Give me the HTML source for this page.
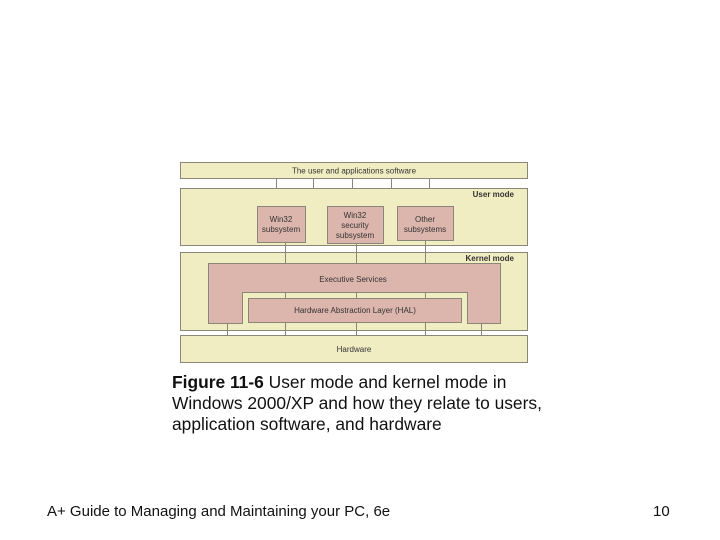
<!DOCTYPE html>
<html><head><meta charset="utf-8"><style>
html,body{margin:0;padding:0;background:#fff;width:720px;height:540px;overflow:hidden;position:relative;font-family:"Liberation Sans",Arial,sans-serif}
.t{position:absolute;white-space:nowrap;color:#111}
</style></head><body>
<svg width="720" height="540" style="position:absolute;left:0;top:0" font-family="Liberation Sans, Arial, sans-serif">
<g stroke="#8a8678" stroke-width="1">
<rect x="180.5" y="162.5" width="347" height="16" fill="#f1edc3"/>
<rect x="180.5" y="188.5" width="347" height="57" fill="#f1edc3"/>
<rect x="180.5" y="252.5" width="347" height="78" fill="#f1edc3"/>
<rect x="180.5" y="335.5" width="347" height="27" fill="#f1edc3"/>
<line x1="276.5" y1="178" x2="276.5" y2="188"/><line x1="313.5" y1="178" x2="313.5" y2="188"/><line x1="352.5" y1="178" x2="352.5" y2="188"/><line x1="391.5" y1="178" x2="391.5" y2="188"/><line x1="429.5" y1="178" x2="429.5" y2="188"/>
<rect x="257.5" y="206.5" width="48" height="36" fill="#dcb5ac"/>
<rect x="327.5" y="206.5" width="56" height="37" fill="#dcb5ac"/>
<rect x="397.5" y="206.5" width="56" height="34" fill="#dcb5ac"/>
<line x1="285.5" y1="242" x2="285.5" y2="263"/><line x1="356.5" y1="243" x2="356.5" y2="263"/><line x1="425.5" y1="240" x2="425.5" y2="263"/>
<path d="M208.5 263.5 H500.5 V323.5 H467.5 V292.5 H242.5 V323.5 H208.5 Z" fill="#dcb5ac"/>
<line x1="285.5" y1="292" x2="285.5" y2="298"/><line x1="356.5" y1="292" x2="356.5" y2="298"/><line x1="425.5" y1="292" x2="425.5" y2="298"/>
<rect x="248.5" y="298.5" width="213" height="24" fill="#dcb5ac"/>
<line x1="227.5" y1="323" x2="227.5" y2="335"/><line x1="285.5" y1="322" x2="285.5" y2="335"/><line x1="356.5" y1="322" x2="356.5" y2="335"/><line x1="425.5" y1="322" x2="425.5" y2="335"/><line x1="481.5" y1="323" x2="481.5" y2="335"/>
</g>
<g fill="#333" font-size="8" text-anchor="middle">
<text x="354" y="173.5">The user and applications software</text>
<text x="281" y="222">Win32</text><text x="281" y="232">subsystem</text>
<text x="355" y="218">Win32</text><text x="355" y="228">security</text><text x="355" y="238">subsystem</text>
<text x="425" y="222">Other</text><text x="425" y="232">subsystems</text>
<text x="353" y="282">Executive Services</text>
<text x="355" y="313">Hardware Abstraction Layer (HAL)</text>
<text x="354" y="352">Hardware</text>
<text x="514" y="197" text-anchor="end" font-weight="bold">User mode</text>
<text x="514" y="261" text-anchor="end" font-weight="bold">Kernel mode</text>
</g>
</svg>
<div class="t" style="left:172px;top:372px;font-size:17.4px;line-height:21px"><b>Figure 11-6</b> User mode and kernel mode in<br>Windows 2000/XP and how they relate to users,<br>application software, and hardware</div>
<div class="t" style="left:47px;top:503px;font-size:15px">A+ Guide to Managing and Maintaining your PC, 6e</div>
<div class="t" style="left:653px;top:503px;font-size:15px">10</div>
</body></html>
